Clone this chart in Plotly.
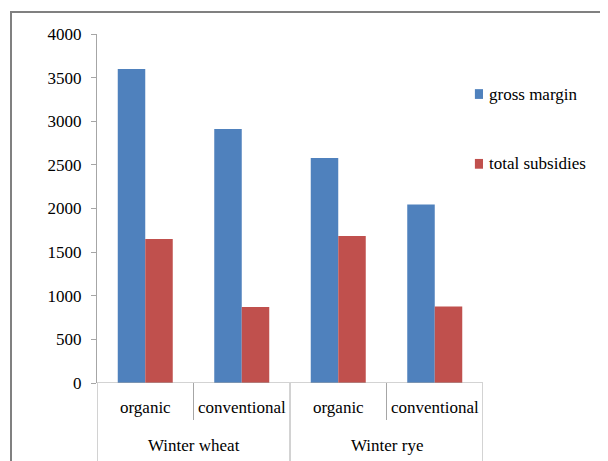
import plotly.graph_objects as go

categories = ["organic", "conventional", "organic", "conventional"]
crops = ["Winter wheat", "Winter rye"]
gross_margin = [3600, 2910, 2580, 2045]
total_subsidies = [1650, 870, 1685, 878]
y_ticks = [0, 500, 1000, 1500, 2000, 2500, 3000, 3500, 4000]
y_tick_text = ["0", "500", "1000", "1500", "2000", "2500", "3000", "3500", "4000"]

BLUE = "#4F81BD"
RED = "#C0504D"
AX = "#A6A6A6"
FONT = "Liberation Serif, Times New Roman, serif"
FS = 17

xpos = list(range(len(categories)))

fig = go.Figure()
fig.add_trace(go.Bar(x=xpos, y=gross_margin, name="gross margin", marker_color=BLUE,
                     marker_line_width=0))
fig.add_trace(go.Bar(x=xpos, y=total_subsidies, name="total subsidies", marker_color=RED,
                     marker_line_width=0))

shapes = []
annotations = []
# outer frame
shapes.append(dict(type="rect", xref="paper", yref="paper", x0=-0.2228, x1=2.0, y0=-1.0, y1=1.063,
                   line=dict(color="#808080", width=2), layer="below"))
# x axis baseline
shapes.append(dict(type="line", xref="x", yref="y", x0=-0.5, x1=3.5, y0=0, y1=0,
                   line=dict(color=AX, width=1)))
# dividers
for xb in [0.5, 2.5]:
    shapes.append(dict(type="line", xref="x", yref="paper", x0=xb, x1=xb, y0=0, y1=-0.106,
                       line=dict(color=AX, width=1)))
for xb in [-0.5, 1.5, 3.5]:
    shapes.append(dict(type="line", xref="x", yref="paper", x0=xb, x1=xb, y0=0, y1=-0.4,
                       line=dict(color=AX, width=1)))
# category labels
for i, c in enumerate(categories):
    annotations.append(dict(x=i, y=-0.0688, xref="x", yref="paper", text=c, showarrow=False,
                            font=dict(family=FONT, size=FS, color="black"),
                            xanchor="center", yanchor="middle"))
for j, c in enumerate(crops):
    annotations.append(dict(x=2 * j + 0.5, y=-0.1777, xref="x", yref="paper", text=c,
                            showarrow=False, font=dict(family=FONT, size=FS, color="black"),
                            xanchor="center", yanchor="middle"))
# manual legend
for name, col, yc in [("gross margin", BLUE, 0.828), ("total subsidies", RED, 0.628)]:
    shapes.append(dict(type="rect", xref="paper", yref="paper", x0=0.979, x1=1.0,
                       y0=yc - 0.014, y1=yc + 0.014, fillcolor=col, line=dict(width=0)))
    annotations.append(dict(x=1.0104, y=yc, xref="paper", yref="paper", text=name,
                            showarrow=False, font=dict(family=FONT, size=FS, color="black"),
                            xanchor="left", yanchor="middle"))

# page body has an 8px margin, so the figure is 8px smaller and margins shifted
fig.update_layout(
    width=600, height=453,
    margin=dict(l=89, r=125, t=26, b=78),
    paper_bgcolor="white", plot_bgcolor="white",
    barmode="group", bargap=0.43, bargroupgap=0,
    showlegend=False,
    shapes=shapes, annotations=annotations,
    font=dict(family=FONT, size=FS, color="black"),
    xaxis=dict(range=[-0.5, 3.5], showticklabels=False, showgrid=False, zeroline=False,
               showline=False, ticks=""),
    yaxis=dict(range=[0, 4000], tickmode="array", tickvals=y_ticks, ticktext=y_tick_text,
               showgrid=False, zeroline=False,
               showline=True, linecolor=AX, linewidth=1, ticks="outside", ticklen=5,
               tickcolor=AX, tickfont=dict(family=FONT, size=FS, color="black"),
               ticklabelstandoff=6),
)

fig.write_html("out.html")
